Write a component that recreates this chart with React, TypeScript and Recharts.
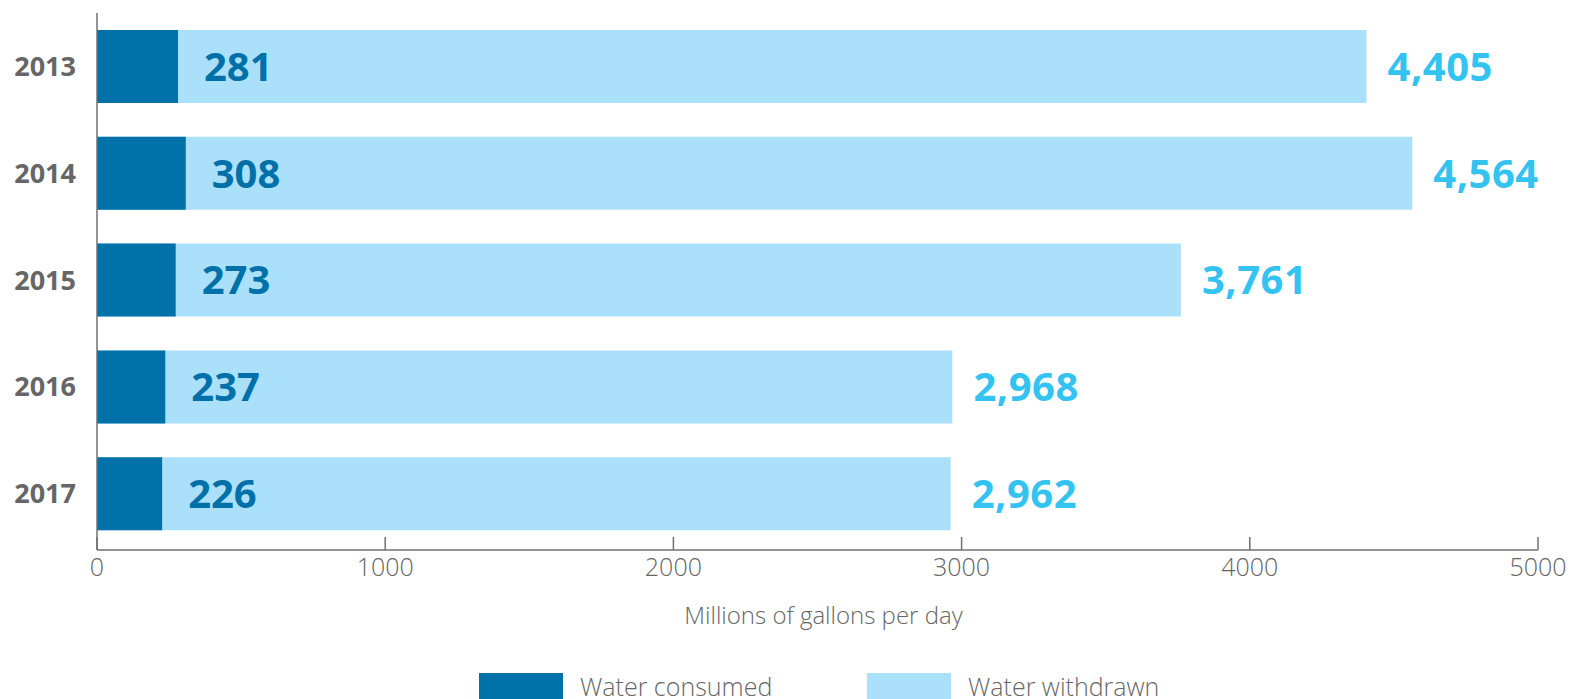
import { Bar, BarChart, LabelList, XAxis, YAxis } from 'recharts'

const years = ['2013', '2014', '2015', '2016', '2017']
const waterConsumed = [281, 308, 273, 237, 226]
const waterWithdrawn = [4405, 4564, 3761, 2968, 2962]
const xTicks = [0, 1000, 2000, 3000, 4000, 5000]

const data = years.map((year, i) => ({
  year,
  consumed: waterConsumed[i],
  withdrawn: waterWithdrawn[i],
}))

const DARK = '#0071a9'
const LIGHT = '#abe0fa'
const AXIS = '#707070'
const TEXT = '#666666'
const FONT = '"Open Sans", "Noto Sans", sans-serif'
const BAR = 73

const legendItems = [
  { label: 'Water consumed', color: DARK },
  { label: 'Water withdrawn', color: LIGHT },
]

export default function App() {
  return (
    <div style={{ position: 'absolute', left: 0, top: 0, width: 1571, height: 699, overflow: 'hidden', background: '#fff' }}>
      <BarChart
        layout="vertical"
        width={1571}
        height={699}
        data={data}
        barGap={-BAR}
        margin={{ top: 13, right: 33, bottom: 69, left: 0 }}
      >
        <YAxis
          type="category"
          dataKey="year"
          width={97}
          padding={{ top: 0, bottom: 3 }}
          axisLine={{ stroke: AXIS, strokeWidth: 1.5 }}
          tickLine={false}
          tickSize={0}
          tickMargin={21}
          tick={{ fill: TEXT, fontSize: 27, fontWeight: 700, fontFamily: FONT }}
        />
        <XAxis
          type="number"
          domain={[0, 5000]}
          ticks={xTicks}
          height={80}
          axisLine={{ stroke: AXIS, strokeWidth: 1.5 }}
          tickLine={{ stroke: AXIS, strokeWidth: 1.5 }}
          tickSize={-13}
          tickMargin={21}
          tick={{ fill: TEXT, fontSize: 25, fontWeight: 300, fontFamily: FONT }}
          label={{
            value: 'Millions of gallons per day',
            position: 'insideBottom',
            offset: 6,
            dx: 6,
            fill: TEXT,
            fontSize: 24,
            fontWeight: 300,
            fontFamily: FONT,
          }}
        />
        <Bar dataKey="withdrawn" barSize={BAR} fill={LIGHT} isAnimationActive={false}>
          <LabelList
            dataKey="withdrawn"
            position="right"
            offset={21}
            formatter={(v: any) => Number(v).toLocaleString('en-US')}
            fill="#33c3f0"
            fontSize={40}
            fontWeight={700}
            fontFamily={FONT}
            letterSpacing={0.5}
          />
        </Bar>
        <Bar dataKey="consumed" barSize={BAR} fill={DARK} isAnimationActive={false}>
          <LabelList
            dataKey="consumed"
            position="right"
            offset={26}
            fill="#0070a8"
            fontSize={40}
            fontWeight={700}
            fontFamily={FONT}
          />
        </Bar>
      </BarChart>

      {legendItems.map((item, i) => (
        <div
          key={item.label}
          style={{
            position: 'absolute',
            left: 479 + i * 388,
            top: 673,
            display: 'flex',
            alignItems: 'flex-start',
            fontFamily: FONT,
            fontWeight: 300,
            fontSize: 25,
            color: TEXT,
            whiteSpace: 'nowrap',
          }}
        >
          <span style={{ display: 'inline-block', width: 84, height: 30, background: item.color, marginRight: 17 }} />
          <span style={{ lineHeight: '26px' }}>{item.label}</span>
        </div>
      ))}
    </div>
  )
}
